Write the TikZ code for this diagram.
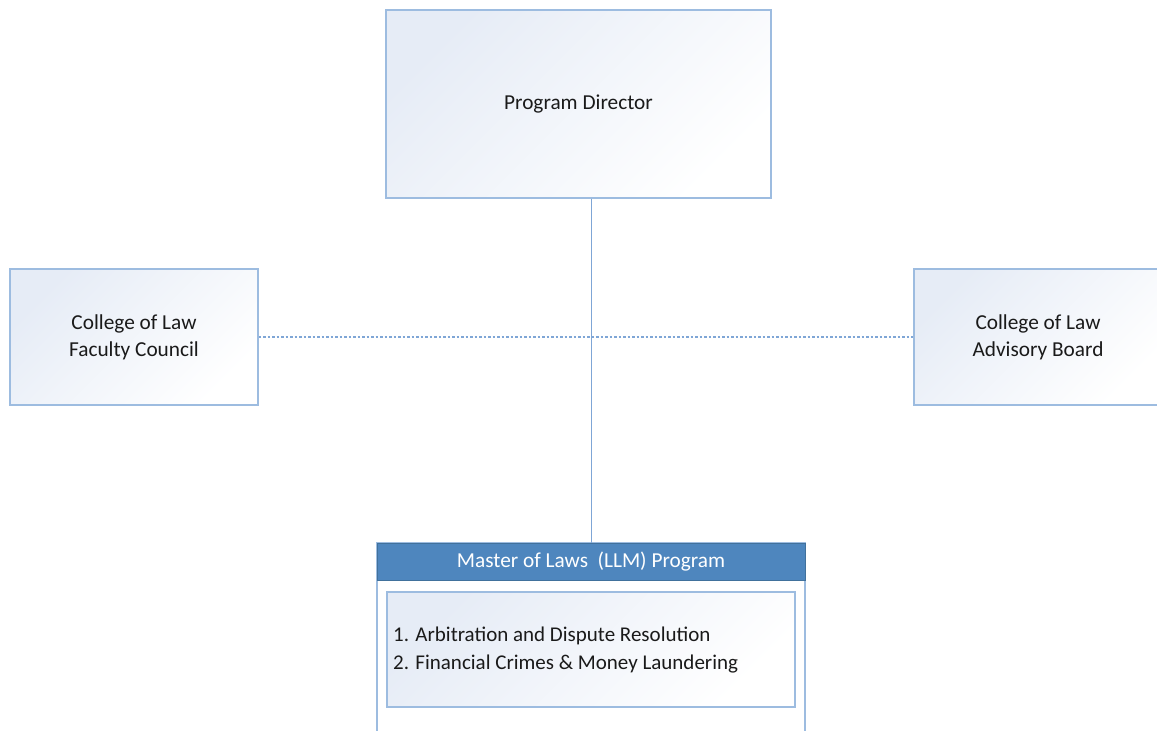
\documentclass[tikz,border=0pt]{standalone}
\usepackage{fontspec}
\setmainfont{Carlito}
\definecolor{bord}{HTML}{9DBCE0}
\definecolor{gradc}{HTML}{E6ECF6}
\definecolor{gradm}{HTML}{F7F9FC}
\definecolor{hdr}{HTML}{4E86BE}
\definecolor{hdrb}{HTML}{41719C}
\definecolor{linec}{HTML}{7FA6D6}
\definecolor{txt}{HTML}{1A1A1A}
\begin{document}
\begin{tikzpicture}[x=1pt,y=-1pt,
  box/.style={draw=bord, line width=1.2pt, left color=gradc, middle color=gradm, right color=white, shading angle=45,
    rectangle, inner sep=0pt, align=center, text=txt, font=\fontsize{21.3}{27}\selectfont},
  conn/.style={draw=linec, line width=1pt},
  dotconn/.style={draw=linec, line width=1.2pt, dash pattern=on 2.5pt off 2pt}]
\useasboundingbox (0,0) rectangle (1157,731);
\clip (0,0) rectangle (1157,731);
\node[box, minimum width=385pt, minimum height=188pt] (pd) at (578.5,104) {Program Director};
\node[box, minimum width=248pt, minimum height=136pt] (fc) at (134,337) {College of Law\\Faculty Council};
\node[box, minimum width=248pt, minimum height=136pt] (ab) at (1038,337) {College of Law\\Advisory Board};
% master outer box
\node[draw=bord, line width=1.2pt, fill=white, minimum width=428pt, minimum height=200pt, inner sep=0pt] (ms) at (591,643) {};
\node[draw=hdrb, line width=1pt, fill=hdr, minimum width=428pt, minimum height=37pt, inner sep=0pt,
  text=white, font=\fontsize{21.3}{24}\selectfont] (mh) at (591,561.5) {Master of Laws\ \ (LLM) Program};
\node[box, minimum width=408pt, minimum height=115pt] (mi) at (591,649.5) {};
\node[anchor=west, inner sep=0pt, align=left, text=txt, font=\fontsize{21}{28}\selectfont] (ml) at (393,650)
  {1. Arbitration and Dispute Resolution\\2. Financial Crimes \& Money Laundering};
\draw[conn] (pd.south -| mh.north) -- (mh.north);
\draw[dotconn] (fc.east) -- (ab.west);
\end{tikzpicture}
\end{document}
